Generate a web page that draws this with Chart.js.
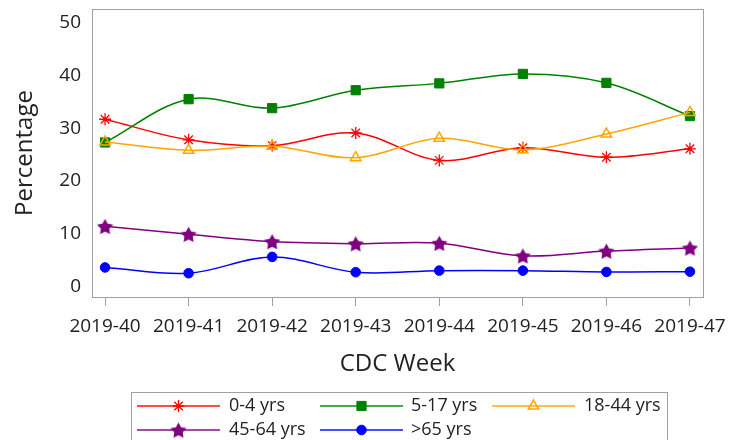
<!DOCTYPE html>
<html><head><meta charset="utf-8">
<script src="https://cdn.jsdelivr.net/npm/chart.js@4"></script>
<style>html,body{margin:0;padding:0;background:#fff;}#wrap{width:740px;height:440px;position:relative}</style>
</head><body><div id="wrap"><canvas id="c" width="740" height="440"></canvas></div>
<script>
const weeks = ['2019-40','2019-41','2019-42','2019-43','2019-44','2019-45','2019-46','2019-47'];
const age0_4   = [31.7, 27.8, 26.7, 29.1, 23.9, 26.3, 24.5, 26.1];
const age5_17  = [27.3, 35.5, 33.8, 37.2, 38.5, 40.3, 38.6, 32.3];
const age18_44 = [27.4, 25.8, 26.6, 24.4, 28.1, 25.9, 28.9, 33.0];
const age45_64 = [11.4, 9.9, 8.5, 8.1, 8.2, 5.8, 6.7, 7.3];
const age65    = [3.6, 2.5, 5.6, 2.7, 3.0, 3.0, 2.75, 2.8];
const seriesNames = ['0-4 yrs','5-17 yrs','18-44 yrs','45-64 yrs','>65 yrs'];
const yTicks = [0, 10, 20, 30, 40, 50];

const FONT = '"Open Sans", "DejaVu Sans", sans-serif';
const TXT = '#222';

function starImg(color, size) {
  const c = document.createElement('canvas');
  c.width = c.height = size;
  const g = c.getContext('2d');
  g.fillStyle = color;
  g.beginPath();
  const cx = size/2, cy = size/2 + 0.9, R = size/2, r = R*0.52;
  for (let k = 0; k < 10; k++) {
    const a = -Math.PI/2 + k*Math.PI/5;
    const rr = k % 2 ? r : R;
    g.lineTo(cx + rr*Math.cos(a), cy + rr*Math.sin(a));
  }
  g.closePath(); g.fill();
  return c;
}
const purpleStar = starImg('#800080', 17);

const styles = [
  {color:'#ff0000', point:'star', radius:6, fill:'#ff0000', bw:1.3},
  {color:'#008000', point:'rect', radius:6.5, fill:'#008000', bw:1},
  {color:'#ffa500', point:'triangle', radius:6, fill:'rgba(0,0,0,0)', bw:1.5},
  {color:'#800080', point:purpleStar, radius:8, fill:'#800080', bw:1},
  {color:'#0000ff', point:'circle', radius:4.8, fill:'#0000ff', bw:1}
];
const seriesData = [age0_4, age5_17, age18_44, age45_64, age65];

const datasets = seriesData.map((vals, i) => ({
  label: seriesNames[i],
  data: vals.map((v, j) => ({x: j, y: v})),
  borderColor: styles[i].color,
  backgroundColor: styles[i].fill,
  pointBackgroundColor: styles[i].fill,
  pointBorderColor: styles[i].color,
  pointBorderWidth: styles[i].bw,
  pointStyle: styles[i].point,
  pointRadius: styles[i].radius,
  borderWidth: 1.5,
  tension: 0.35,
  fill: false,
  order: seriesData.length - i
}));

const framePlugin = {
  id: 'frame',
  beforeDatasetsDraw(chart) {
    const a = chart.chartArea, ctx = chart.ctx;
    ctx.save();
    ctx.strokeStyle = '#a0a0a0';
    ctx.lineWidth = 1;
    ctx.strokeRect(Math.round(a.left)+0.5, Math.round(a.top)+0.5, Math.round(a.right - a.left), Math.round(a.bottom - a.top));
    ctx.restore();
  }
};

const legendPlugin = {
  id: 'customLegend',
  afterDraw(chart) {
    const ctx = chart.ctx;
    ctx.save();
    ctx.strokeStyle = '#a0a0a0';
    ctx.lineWidth = 1;
    ctx.strokeRect(131.5, 392.5, 536, 60);
    const cols = [137, 320, 492];
    const textOff = [92, 91, 92];
    const rows = [406, 430];
    ctx.font = '18px ' + FONT;
    ctx.textBaseline = 'middle';
    ctx.textAlign = 'left';
    seriesNames.forEach((name, i) => {
      const col = i % 3, row = Math.floor(i / 3);
      const x0 = cols[col], y = rows[row];
      const s = styles[i];
      ctx.save();
      ctx.globalAlpha = 0.7;
      ctx.strokeStyle = s.color;
      ctx.lineWidth = 2;
      ctx.beginPath(); ctx.moveTo(x0, y); ctx.lineTo(x0 + 83, y); ctx.stroke();
      ctx.restore();
      ctx.save();
      ctx.strokeStyle = s.color;
      ctx.fillStyle = s.fill;
      ctx.lineWidth = s.bw;
      Chart.helpers.drawPoint(ctx, {pointStyle: s.point, radius: s.radius, rotation: 0, borderWidth: s.bw}, x0 + 41.5, y);
      ctx.restore();
      ctx.fillStyle = TXT;
      ctx.fillText(name, x0 + textOff[col], y);
    });
    ctx.restore();
  }
};

new Chart(document.getElementById('c'), {
  type: 'line',
  data: { datasets },
  options: {
    responsive: false,
    animation: false,
    devicePixelRatio: 1,
    layout: { padding: { left: 0, right: 37, top: 5, bottom: 50 } },
    plugins: { legend: { display: false }, tooltip: { enabled: false } },
    scales: {
      x: {
        type: 'linear',
        min: -0.156, max: 7.156,
        afterBuildTicks: (s) => { s.ticks = weeks.map((w, i) => ({value: i})); },
        afterFit: (s) => { s.height = 93; s.paddingLeft = 0; s.paddingRight = 0; },
        border: { display: false },
        grid: { display: true, drawOnChartArea: false, drawTicks: true, tickLength: 9, color: '#a0a0a0' },
        ticks: {
          autoSkip: false, maxRotation: 0, padding: 9, color: TXT,
          font: { family: FONT, size: 19 },
          callback: (v) => weeks[Math.round(v)]
        },
        title: { display: true, text: 'CDC Week', color: TXT, font: { family: FONT, size: 24 }, padding: { top: 0, bottom: 11 } }
      },
      y: {
        min: -2, max: 52.6,
        afterBuildTicks: (s) => { s.ticks = yTicks.map(v => ({value: v})); },
        afterFit: (s) => { s.width = 92; s.paddingTop = 0; s.paddingBottom = 0; },
        border: { display: false },
        grid: { display: false, drawTicks: false },
        ticks: { padding: 11, color: TXT, font: { family: FONT, size: 19, lineHeight: 0.5 } },
        title: { display: true, text: 'Percentage', color: TXT, font: { family: FONT, size: 24 }, padding: { top: 11, bottom: 0 } }
      }
    }
  },
  plugins: [framePlugin, legendPlugin]
});
</script></body></html>
